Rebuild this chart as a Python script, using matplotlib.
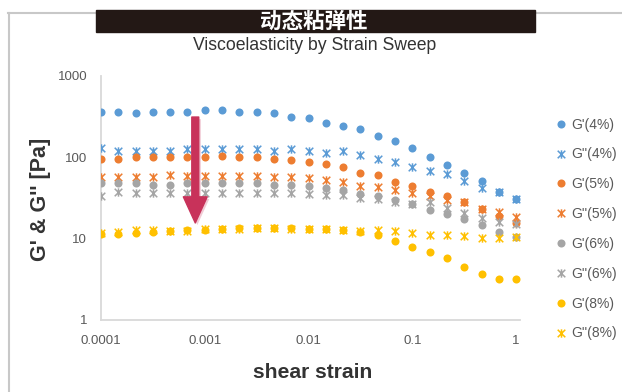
import matplotlib
matplotlib.use("Agg")
import matplotlib.pyplot as plt
import matplotlib.patheffects as pe
from matplotlib.path import Path
from matplotlib.patches import FancyArrowPatch, Rectangle
from matplotlib.lines import Line2D

plt.rcParams['font.family'] = ['Liberation Sans', 'DejaVu Sans']

# strain sweep, 6 points per decade
strain = [0.0001, 0.000147, 0.000215, 0.000316, 0.000464, 0.000681,
          0.001, 0.00147, 0.00215, 0.00316, 0.00464, 0.00681,
          0.01, 0.0147, 0.0215, 0.0316, 0.0464, 0.0681,
          0.1, 0.147, 0.215, 0.316, 0.464, 0.681, 1.0]

g1_4 = [364, 364, 348, 364, 364, 364, 382, 382, 364, 364, 348, 316,
        302, 262, 245, 223, 183, 159, 129, 102, 80, 65, 51, 38, 31]
g2_4 = [130, 118, 118, 121, 121, 125, 125, 125, 125, 125, 121, 125,
        121, 114, 121, 107, 95, 87, 75, 68, 62, 51, 42, 37, 31]
g1_5 = [95, 95, 102, 102, 102, 102, 102, 105, 102, 102, 95, 92,
        87, 83, 75, 65, 60, 50, 44, 37, 33, 28.5, 23, 19.2, 15.5]
g2_5 = [58, 57, 57, 57, 61, 59, 59, 59, 59, 59, 57, 57,
        55, 52, 50, 44, 43, 40, 36, 33, 30, 28, 23, 21, 18.5]
g1_6 = [48, 48, 48, 46, 46, 48, 48, 48, 48, 48, 46, 46,
        44, 42, 40, 35, 33, 30, 27, 22.5, 20, 17.3, 14.7, 12.2, 10.6]
g2_6 = [33.5, 38, 36, 36, 36, 36, 36, 36, 36, 36, 36, 36,
        35, 34, 34, 32, 31, 28.5, 27, 28, 24, 20.5, 17.8, 16.2, 15]
g1_8 = [11.4, 11.4, 11.8, 12.2, 12.5, 12.8, 12.8, 13.0, 13.4, 13.4, 13.4, 13.4,
        13.0, 13.0, 12.8, 12.2, 11.1, 9.4, 8.0, 6.9, 5.8, 4.5, 3.7, 3.2, 3.2]
g2_8 = [11.8, 12.2, 12.8, 12.8, 12.5, 12.5, 13.2, 13.2, 13.2, 13.4, 13.4, 13.2,
        13.2, 13.2, 12.8, 12.5, 12.8, 12.4, 11.6, 11.1, 11.1, 10.9, 10.3, 10.1, 10.6]

labels = ["G'(4%)", "G''(4%)", "G'(5%)", "G''(5%)",
          "G'(6%)", "G''(6%)", "G'(8%)", "G''(8%)"]
series = [g1_4, g2_4, g1_5, g2_5, g1_6, g2_6, g1_8, g2_8]
colors = ['#5B9BD5', '#5B9BD5', '#ED7D31', '#ED7D31',
          '#A5A5A5', '#A5A5A5', '#FFC000', '#FFC000']

# excel-style star marker: X plus a vertical stroke
star = Path([(-1, -1), (1, 1), (-1, 1), (1, -1), (0, -1.1), (0, 1.1)],
            [Path.MOVETO, Path.LINETO] * 3)

fig = plt.figure(figsize=(6.22, 3.92), dpi=100)
ax = fig.add_axes([101 / 622, 72 / 392, 419 / 622, 244 / 392])

handles = []
for i, (vals, lab, col) in enumerate(zip(series, labels, colors)):
    if i % 2 == 0:
        h, = ax.plot(strain, vals, linestyle='none', marker='o', ms=5.8,
                     mfc=col, mec=col, mew=0, label=lab, zorder=3 + i)
    else:
        h, = ax.plot(strain, vals, linestyle='none', marker=star, ms=6.0,
                     mfc='none', mec=col, mew=1.1, label=lab, zorder=3 + i)
    handles.append(h)

ax.set_xscale('log')
ax.set_yscale('log')
ax.set_xlim(1e-4, 1.09)
ax.set_ylim(1, 1000)
ax.set_xticks([1e-4, 1e-3, 1e-2, 0.1, 1])
ax.set_xticklabels(['0.0001', '0.001', '0.01', '0.1', '1'])
ax.set_yticks([1, 10, 100, 1000])
ax.set_yticklabels(['1', '10', '100', '1000'])
ax.minorticks_off()
ax.tick_params(length=0, labelsize=9.5, colors='#595959')
ax.tick_params(axis='x', pad=11)
ax.tick_params(axis='y', pad=10)
for s in ['top', 'right']:
    ax.spines[s].set_visible(False)
for s in ['left', 'bottom']:
    ax.spines[s].set_color('#d9d9d9')
    ax.spines[s].set_linewidth(1.3)

# red arrow pointing down at 0.0008 strain
arr = FancyArrowPatch((8.1e-4, 313), (8.1e-4, 15.6),
                      arrowstyle='simple,head_length=0.94,head_width=0.86,tail_width=0.25',
                      mutation_scale=20, color='#c8325a', shrinkA=0, shrinkB=0,
                      zorder=20)
arr.set_path_effects([pe.SimplePatchShadow(offset=(1.5, -1.5), alpha=0.25,
                                           shadow_rgbFace='#c8325a'),
                      pe.Normal()])
ax.add_patch(arr)

fig.legend(handles, labels, loc='upper left',
           bbox_to_anchor=(550 / 622, 1 - 112 / 392), frameon=False,
           fontsize=10, labelspacing=1.14, handlelength=0.8,
           handletextpad=0.3, labelcolor='#595959', borderaxespad=0)

fig.text(41 / 622, 0.492, "G' & G'' [Pa]", rotation=90, fontsize=15.5,
         fontweight='bold', color='#333333', ha='center', va='center')
fig.text(313 / 622, 1 - 373 / 392, 'shear strain', fontsize=15.2,
         fontweight='bold', color='#333333', ha='center', va='center')

# header bar and subtitle
fig.patches.append(Rectangle((96 / 622, 1 - 32 / 392), 439 / 622, 22 / 392,
                             transform=fig.transFigure, color='#231815',
                             zorder=2))
fig.text(314 / 622, 1 - 21 / 392, '动态粘弹性', color='white', fontsize=15.5,
         fontweight='bold', family=['Noto Sans CJK SC'], ha='center',
         va='center', zorder=3)
fig.text(315 / 622, 1 - 45 / 392, 'Viscoelasticity by Strain Sweep',
         fontsize=12.7, color='#333333', ha='center', va='center')

# light frame on top and left
fig.lines.append(Line2D([8 / 622, 1], [1 - 13 / 392, 1 - 13 / 392],
                        transform=fig.transFigure, color='#c8c8c8', lw=1.5,
                        zorder=1))
fig.lines.append(Line2D([9 / 622, 9 / 622], [0, 1 - 13 / 392],
                        transform=fig.transFigure, color='#c8c8c8', lw=1.5,
                        zorder=1))

fig.savefig('out.png', dpi=100)
